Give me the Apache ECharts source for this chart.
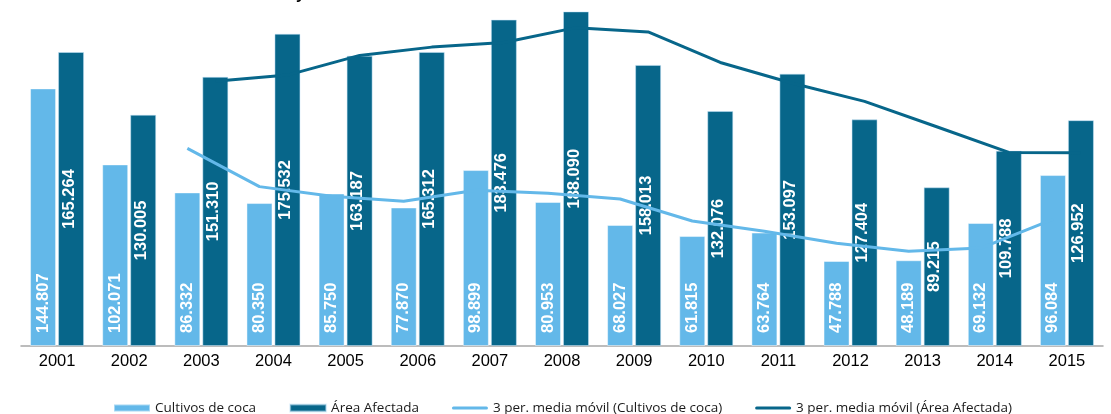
<!DOCTYPE html>
<html>
<head>
<meta charset="utf-8">
<script src="https://cdn.jsdelivr.net/npm/echarts@6/dist/echarts.min.js"></script>
<style>
html,body{margin:0;padding:0;background:#fff;}
#c{width:1111px;height:414px;}
</style>
</head>
<body>
<div id="c"></div>
<script>
var years = ['2001','2002','2003','2004','2005','2006','2007','2008','2009','2010','2011','2012','2013','2014','2015'];
var cultivos = [144807,102071,86332,80350,85750,77870,98899,80953,68027,61815,63764,47788,48189,69132,96084];
var area = [165264,130005,151310,175532,163187,165312,183476,188090,158013,132076,153097,127404,89215,109788,126952];
// 3-period moving averages as shown in the picture (from 2003 onwards)
var maCultivos = [null,null,111070,89584,84144,81323,87506,85907,82626,70265,64535,57789,53247,55036,71135];
var maArea = [null,null,148860,152282,163343,168010,170658,178959,176526,159393,147729,137526,123239,108802,108652];

var LIGHT = '#63B8E9';
var DARK = '#07668A';
var gridLeft = 21, gridRight = 8, chartW = 1111;
var catW = (chartW - gridLeft - gridRight) / years.length;
var barW = 26, barGapPx = 2;
var off = (barW + barGapPx) / 2 / catW;

function fmt(v){
  var s = String(Math.round(v));
  return s.replace(/\B(?=(\d{3})+(?!\d))/g, '.');
}
function linePts(arr, shift){
  var out = [];
  arr.forEach(function(v,i){ if(v!==null) out.push([i+shift, v]); });
  return out;
}
var lineIcon = 'path://M1.5,0h33a1.5,1.5 0 0 1 0,3h-33a1.5,1.5 0 0 1 0,-3z';

var chart = echarts.init(document.getElementById('c'));
chart.setOption({
  animation:false,
  backgroundColor:'#ffffff',
  graphic:[{type:'text', left:296, top:-13, style:{text:'y', font:'bold 16px "Liberation Sans"', fill:'#000'}}],
  grid:{left:gridLeft, right:gridRight, top:8, bottom:68, containLabel:false},
  xAxis:[{
    type:'category', data:years,
    axisLine:{show:true, lineStyle:{color:'#A6A6A6', width:1.5}},
    axisTick:{show:false},
    axisLabel:{color:'#000', fontSize:16.5, fontFamily:'Liberation Sans', margin:7}
  },{
    type:'value', min:-0.5, max:years.length-0.5, show:false
  }],
  yAxis:{type:'value', min:0, max:190000, show:false, splitLine:{show:false}},
  legend:{
    left:108, top:396, itemWidth:36, itemHeight:7, itemGap:33,
    textStyle:{fontFamily:'Open Sans', fontSize:13.5, color:'#1a1a1a'},
    data:[
      {name:'Cultivos de coca', icon:'rect'},
      {name:'Área Afectada', icon:'rect'},
      {name:'3 per. media móvil (Cultivos de coca)', icon:lineIcon},
      {name:'3 per. media móvil (Área Afectada)', icon:lineIcon}
    ]
  },
  series:[{
    name:'Cultivos de coca', type:'bar', data:cultivos, barWidth:barW, barGap:(barGapPx/barW*100)+'%',
    itemStyle:{color:LIGHT, borderColor:'rgba(255,255,255,0.45)', borderWidth:1},
    label:{show:true, position:'insideBottom', rotate:90, distance:13, align:'left', verticalAlign:'middle',
      color:'#fff', fontFamily:'Liberation Sans', fontWeight:'bold', fontSize:16.5, formatter:function(p){return fmt(p.value);}}
  },{
    name:'Área Afectada', type:'bar', data:area, barWidth:barW,
    itemStyle:{color:DARK, borderColor:'rgba(200,230,250,0.5)', borderWidth:1},
    label:{show:true, position:'inside', rotate:90, align:'center', verticalAlign:'middle', offset:[0,-2],
      color:'#fff', fontFamily:'Liberation Sans', fontWeight:'bold', fontSize:16.5, formatter:function(p){return fmt(p.value);}}
  },{
    name:'3 per. media móvil (Cultivos de coca)', type:'line', xAxisIndex:1, data:linePts(maCultivos,-off),
    symbol:'none', lineStyle:{color:LIGHT, width:3}, itemStyle:{color:LIGHT}, z:5
  },{
    name:'3 per. media móvil (Área Afectada)', type:'line', xAxisIndex:1, data:linePts(maArea,off),
    symbol:'none', lineStyle:{color:DARK, width:3}, itemStyle:{color:DARK}, z:5
  }]
});
</script>
</body>
</html>
